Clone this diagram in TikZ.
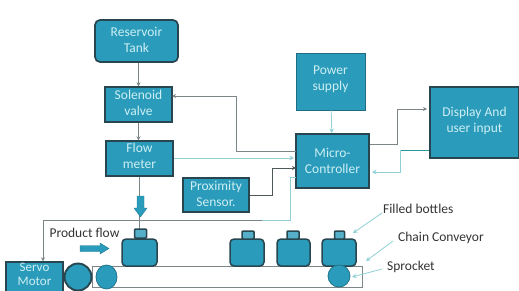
\documentclass[tikz,border=0pt]{standalone}
\usepackage{fontspec}
\setmainfont{Carlito}
\usetikzlibrary{arrows.meta}
\definecolor{tealfill}{HTML}{2A9BBA}
\definecolor{darkedge}{HTML}{274650}
\definecolor{paletext}{HTML}{CDEFF4}
\definecolor{wire}{HTML}{7C8688}
\definecolor{darkwire}{HTML}{4E5759}
\definecolor{palewire}{HTML}{8FD0D6}
\tikzset{
  x=1pt,y=-1pt,
  blockbox/.style={draw=darkedge,fill=tealfill,line width=1.4pt,inner sep=0pt},
  boxtext/.style={text=paletext,align=center,font=\fontsize{13.5}{16}\selectfont,inner sep=0pt},
  bottlebody/.style={draw=darkedge,fill=tealfill,line width=1.5pt,rounded corners=4pt,inner sep=0pt},
  bottlecap/.style={draw=darkedge,fill=tealfill!80!white,line width=1.5pt,rounded corners=1pt,inner sep=0pt,minimum width=12pt,minimum height=9pt},
  wireline/.style={draw=wire,line width=0.8pt,-{Stealth[length=4pt,width=4pt]}},
  plainwire/.style={draw=wire,line width=0.8pt},
  darkarrow/.style={draw=darkwire,line width=0.8pt,-{Stealth[length=4pt,width=4pt]}},
  palearrow/.style={draw=palewire,line width=0.8pt,-{Stealth[length=4.5pt,width=4.5pt]}},
  paleline/.style={draw=palewire,line width=0.8pt},
  callout/.style={text=black!80,font=\fontsize{13.5}{16}\selectfont,inner sep=0pt,anchor=west},
  wheel/.style={draw=tealfill!75!black,fill=tealfill,line width=0.8pt,inner sep=0pt},
  fatarrow/.style={draw=tealfill!80!black,fill=tealfill,line width=0.4pt},
}
\begin{document}
\begin{tikzpicture}
\useasboundingbox (0,0) rectangle (519,290);
% Process blocks
\node[blockbox,rounded corners=5pt,line width=1.7pt,minimum width=83pt,minimum height=42pt,label={[boxtext,yshift=1pt]center:Reservoir\\Tank}] (tank) at (136.5,41) {};
\node[blockbox,minimum width=67pt,minimum height=35pt,label={[boxtext,yshift=1.5pt]center:Solenoid\\valve}] (valve) at (138.5,104.5) {};
\node[blockbox,minimum width=67pt,minimum height=35pt,label={[boxtext,yshift=2.5pt]center:Flow\\meter}] (meter) at (139.5,158.5) {};
\node[blockbox,minimum width=66pt,minimum height=34pt,label={[boxtext,yshift=1.5pt]center:Proximity\\Sensor.}] (prox) at (216,195) {};
\node[blockbox,draw=tealfill!70!black,line width=0.8pt,minimum width=69pt,minimum height=57pt,label={[boxtext,yshift=2pt]center:Power\\supply}] (power) at (330.5,81.5) {};
\node[blockbox,line width=1.9pt,minimum width=73pt,minimum height=54pt,label={[boxtext]center:Micro-\\Controller}] (micro) at (332.5,161) {};
\node[blockbox,line width=1.9pt,minimum width=89pt,minimum height=71pt,label={[boxtext,yshift=1.5pt]center:Display And\\user input}] (disp) at (474.5,122.5) {};
\node[blockbox,minimum width=57pt,minimum height=34pt,label={[boxtext,font=\fontsize{13}{14.5}\selectfont,yshift=4.5pt]center:Servo\\Motor}] (servo) at (34.5,279) {};
% Pipe and control wiring
\draw[wireline] (tank.south -| valve) -- (valve);
\draw[wireline] (valve) -- (meter.north -| valve);
\coordinate (valvein) at (172,96);
\coordinate (valvebend) at (236,96);
\coordinate (microa) at (296,151);
\draw[darkarrow,draw=wire] (microa) -- (236,151) -- (valvebend) -- (valvein);
\draw[palearrow] (meter.east |- 0,158) -- (294,158);
\draw[darkarrow] (prox.east) -- (272,195) -- (272,168) -- (296,168);
\draw[paleline] (262,220) -- (290,220) -- (290,177) -- (296,177);
\draw[plainwire] (43,220) -- (262,220);
\draw[wireline] (43,220) -- (servo.north -| 43,0);
\draw[palearrow] (power) -- (micro);
\draw[wireline] (micro.east |- 0,144) -- (397,144) -- (397,109) -- (427,109);
\draw[draw=teal!70!palewire,line width=0.8pt] (disp.west |- 0,150) -- (400,150);
\draw[palearrow] (400,150) -- (400,172) -- (372,172);
% Feed line and nozzle arrow
\coordinate (pipeend) at (139.5,229);
\draw[plainwire] (meter) -- (pipeend);
\draw[fatarrow] (137,196) -- (144,196) -- (144,208) -- (147,208) -- (140.5,217) -- (134,208) -- (137,208) -- cycle;
% Conveyor belt
\draw[plainwire] (92,266) -- (362,266) -- (362,287) -- (92,287) -- cycle;
% Bottles
\node[bottlebody,minimum width=35pt,minimum height=27pt] (bottlea) at (139.5,252.5) {};
\node[bottlecap] (capa) at (140.5,233.5) {};
\node[bottlebody,minimum width=34pt,minimum height=27pt] (bottleb) at (247,252.5) {};
\node[bottlecap,minimum height=8pt] (capb) at (248,235) {};
\node[bottlebody,minimum width=33pt,minimum height=27pt] (bottlec) at (293.5,252.5) {};
\node[bottlecap,minimum height=8pt] (capc) at (293,235) {};
\node[bottlebody,minimum width=34pt,minimum height=27pt] (bottled) at (339,252.5) {};
\node[bottlecap,minimum width=10pt,minimum height=8pt] (capd) at (339.5,235) {};
% Drive wheels
\node[wheel,circle,draw=darkedge,line width=1.9pt,minimum size=27pt] (motorwheel) at (78,277) {};
\fill[wheel,draw=tealfill!75!black] (106.5,277) ellipse (10.5 and 12);
\node[wheel,circle,minimum size=22pt] (sprocketwheel) at (339,276) {};
% Product flow marker
\node[text=black!80,font=\fontsize{13.5}{16}\selectfont,inner sep=0pt] (flowlabel) at (84.5,233) {Product flow};
\draw[fatarrow] (80,245.5) -- (100,245.5) -- (100,243) -- (109,248.5) -- (100,254) -- (100,251.5) -- (80,251.5) -- cycle;
% Callouts
\node[callout] (filled) at (383,209) {Filled bottles};
\node[callout] (chain) at (398,238) {Chain Conveyor};
\node[callout] (sprocket) at (387,267) {Sprocket};
\coordinate (filledtip) at (353,233);
\coordinate (chaintip) at (366,261);
\coordinate (sprockettip) at (352,277);
\draw[palearrow] (382,213) -- (filledtip);
\draw[palearrow] (393,241) -- (chaintip);
\draw[palearrow] (382,269) -- (sprockettip);
\end{tikzpicture}
\end{document}
